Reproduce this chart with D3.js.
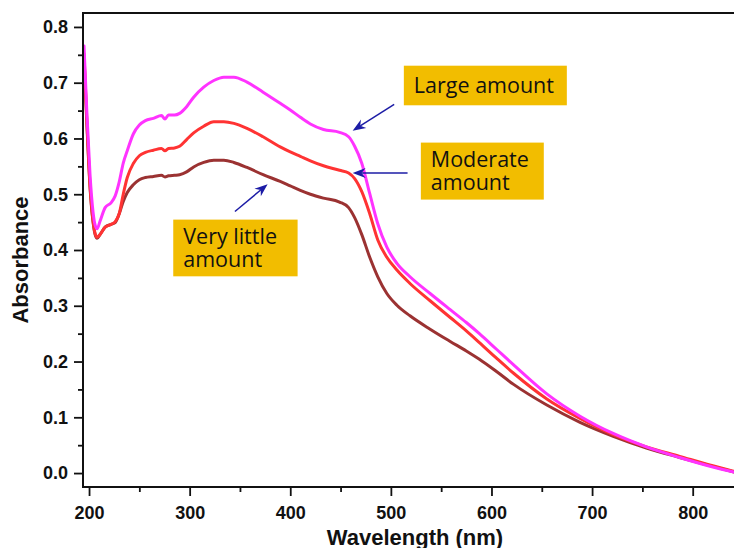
<!DOCTYPE html>
<html>
<head>
<meta charset="utf-8">
<script src="https://cdn.jsdelivr.net/npm/d3@7/dist/d3.min.js"></script>
<style>
  html, body { margin: 0; padding: 0; background: #fff; }
  svg { display: block; }
</style>
</head>
<body>
<svg id="chart" width="734" height="548"></svg>
<script>
// UV-Vis absorbance spectra for three dosage levels
const wavelengths = [195, 198, 201, 204, 206, 208, 211, 216, 222, 226, 230, 234, 238, 244, 250, 256, 264, 272, 275.5, 279, 285, 290, 297, 304, 314, 324, 334, 344, 357, 373, 390, 400, 410, 420, 433, 449, 458, 464, 471, 479, 487, 496, 506, 519, 539, 559, 575, 588, 605, 622, 655, 688, 721, 754, 787, 820, 841];

const largeAmount = [0.766, 0.640, 0.535, 0.468, 0.445, 0.438, 0.452, 0.476, 0.485, 0.497, 0.522, 0.556, 0.578, 0.608, 0.624, 0.632, 0.636, 0.641, 0.635, 0.642, 0.642, 0.645, 0.657, 0.674, 0.692, 0.704, 0.710, 0.710, 0.701, 0.683, 0.663, 0.651, 0.638, 0.626, 0.616, 0.611, 0.603, 0.586, 0.556, 0.501, 0.447, 0.405, 0.376, 0.352, 0.322, 0.293, 0.270, 0.250, 0.222, 0.194, 0.142, 0.102, 0.071, 0.047, 0.028, 0.011, 0.002];

const moderateAmount = [0.752, 0.625, 0.515, 0.452, 0.430, 0.423, 0.428, 0.441, 0.446, 0.451, 0.465, 0.500, 0.530, 0.555, 0.569, 0.575, 0.579, 0.582, 0.578, 0.582, 0.583, 0.586, 0.598, 0.610, 0.622, 0.630, 0.630, 0.627, 0.618, 0.603, 0.585, 0.576, 0.568, 0.560, 0.551, 0.543, 0.538, 0.528, 0.505, 0.465, 0.418, 0.387, 0.364, 0.340, 0.309, 0.279, 0.255, 0.234, 0.206, 0.179, 0.133, 0.098, 0.069, 0.047, 0.030, 0.013, 0.003];

const veryLittleAmount = [0.745, 0.620, 0.512, 0.450, 0.428, 0.421, 0.428, 0.441, 0.446, 0.449, 0.465, 0.487, 0.503, 0.517, 0.526, 0.530, 0.532, 0.534, 0.531, 0.533, 0.534, 0.535, 0.540, 0.549, 0.557, 0.561, 0.561, 0.557, 0.548, 0.535, 0.523, 0.515, 0.507, 0.500, 0.493, 0.486, 0.476, 0.458, 0.428, 0.387, 0.352, 0.322, 0.301, 0.282, 0.258, 0.236, 0.219, 0.204, 0.182, 0.159, 0.122, 0.091, 0.066, 0.045, 0.028, 0.012, 0.002];

const seriesNames = ["Very little amount", "Moderate amount", "Large amount"];
const seriesColors = ["#9b3232", "#ff3333", "#ff33ff"];

const xTicks = [200, 300, 400, 500, 600, 700, 800];
const xMinorTicks = [250, 350, 450, 550, 650, 750];
const yTicks = [0.0, 0.1, 0.2, 0.3, 0.4, 0.5, 0.6, 0.7, 0.8];
const yMinorTicks = [0.05, 0.15, 0.25, 0.35, 0.45, 0.55, 0.65, 0.75];

// Callouts: box corners and arrow ends in data units (wavelength, absorbance)
const callouts = [
  { lines: ["Large amount"], box: [512.9, 0.7305, 674.9, 0.6595], tail: [503.3, 0.661], tip: [462, 0.614] },
  { lines: ["Moderate", "amount"], box: [529.8, 0.5926, 652.0, 0.4904], tail: [516.6, 0.538], tip: [462, 0.538] },
  { lines: ["Very little", "amount"], box: [283.7, 0.4545, 407.3, 0.3528], tail: [345, 0.469], tip: [377.5, 0.518] }
];

const svg = d3.select("#chart");
const plotLeft = 83, plotRight = 743, plotTop = 13, plotBottom = 487;

const x = d3.scaleLinear().domain([194, 850]).range([plotLeft, plotRight]);
const y = d3.scaleLinear().domain([-0.025, 0.825]).range([plotBottom, plotTop]);

svg.append("defs").append("clipPath").attr("id", "plotclip")
  .append("rect").attr("x", plotLeft).attr("y", plotTop)
  .attr("width", plotRight - plotLeft).attr("height", plotBottom - plotTop);

// spectra
const seriesValues = [veryLittleAmount, moderateAmount, largeAmount];
const line = d3.line()
  .x(d => x(d[0]))
  .y(d => y(d[1]))
  .curve(d3.curveMonotoneX);

const lines = svg.append("g").attr("clip-path", "url(#plotclip)");
seriesValues.forEach((vals, i) => {
  lines.append("path")
    .datum(wavelengths.map((w, j) => [w, vals[j]]))
    .attr("fill", "none")
    .attr("stroke", seriesColors[i])
    .attr("stroke-width", 3)
    .attr("stroke-linejoin", "round")
    .attr("stroke-linecap", "round")
    .attr("d", line);
});

// axes
const tickFont = "'Liberation Sans', Arial, sans-serif";
const xAxis = svg.append("g").attr("transform", `translate(0,${plotBottom})`)
  .call(d3.axisBottom(x).tickValues(xTicks).tickSize(9).tickPadding(10).tickFormat(d3.format("d")));
const xMinor = svg.append("g").attr("transform", `translate(0,${plotBottom})`)
  .call(d3.axisBottom(x).tickValues(xMinorTicks).tickSize(5).tickFormat(""));
const yAxis = svg.append("g").attr("transform", `translate(${plotLeft},0)`)
  .call(d3.axisLeft(y).tickValues(yTicks).tickSize(9).tickPadding(6).tickFormat(d3.format(".1f")));
const yMinor = svg.append("g").attr("transform", `translate(${plotLeft},0)`)
  .call(d3.axisLeft(y).tickValues(yMinorTicks).tickSize(5).tickFormat(""));

[xAxis, xMinor, yAxis, yMinor].forEach(g => {
  g.select(".domain").remove();
  g.selectAll(".tick line").attr("stroke", "#111").attr("stroke-width", 1.8);
  g.selectAll(".tick text")
    .attr("fill", "#111")
    .style("font-family", tickFont)
    .style("font-size", "18px")
    .style("font-weight", "bold");
});

// frame
svg.append("rect")
  .attr("x", plotLeft).attr("y", plotTop)
  .attr("width", plotRight - plotLeft).attr("height", plotBottom - plotTop)
  .attr("fill", "none").attr("stroke", "#111").attr("stroke-width", 2);

// axis titles
svg.append("text")
  .attr("x", 415).attr("y", 545)
  .attr("text-anchor", "middle")
  .style("font-family", tickFont).style("font-size", "22px").style("font-weight", "bold")
  .attr("fill", "#111")
  .text("Wavelength (nm)");

svg.append("text")
  .attr("transform", "translate(28,260) rotate(-90)")
  .attr("text-anchor", "middle")
  .style("font-family", tickFont).style("font-size", "22px").style("font-weight", "bold")
  .attr("fill", "#111")
  .text("Absorbance");

// callouts
const arrowColor = "#1c1ca6";
const notes = svg.append("g");
callouts.forEach(c => {
  const bx0 = x(c.box[0]), by0 = y(c.box[1]), bx1 = x(c.box[2]), by1 = y(c.box[3]);
  notes.append("rect")
    .attr("x", bx0).attr("y", by0)
    .attr("width", bx1 - bx0).attr("height", by1 - by0)
    .attr("fill", "#f2bd00");
  const n = c.lines.length;
  const lh = 23;
  const h = by1 - by0;
  const firstBase = by0 + h / 2 - (n - 1) * lh / 2 + 7.5;
  const label = notes.append("text")
    .style("font-family", "'Open Sans', 'Noto Sans', sans-serif")
    .style("font-size", "21.5px")
    .attr("fill", "#111");
  c.lines.forEach((t, k) => {
    label.append("tspan")
      .attr("x", bx0 + 10).attr("y", firstBase + k * lh)
      .text(t);
  });

  // arrow shaft and barbed head
  const tx = x(c.tail[0]), ty = y(c.tail[1]), hx = x(c.tip[0]), hy = y(c.tip[1]);
  const ang = Math.atan2(hy - ty, hx - tx);
  const L = 13, W = 5, back = 9;
  const ux = Math.cos(ang), uy = Math.sin(ang);
  const px = -uy, py = ux;
  const baseX = hx - ux * back, baseY = hy - uy * back;
  notes.append("line")
    .attr("x1", tx).attr("y1", ty).attr("x2", baseX).attr("y2", baseY)
    .attr("stroke", arrowColor).attr("stroke-width", 1.5);
  const p1 = [hx - ux * L + px * W, hy - uy * L + py * W];
  const p2 = [hx - ux * L - px * W, hy - uy * L - py * W];
  notes.append("path")
    .attr("d", `M${hx},${hy}L${p1[0]},${p1[1]}L${baseX},${baseY}L${p2[0]},${p2[1]}Z`)
    .attr("fill", arrowColor);
});
</script>
</body>
</html>
